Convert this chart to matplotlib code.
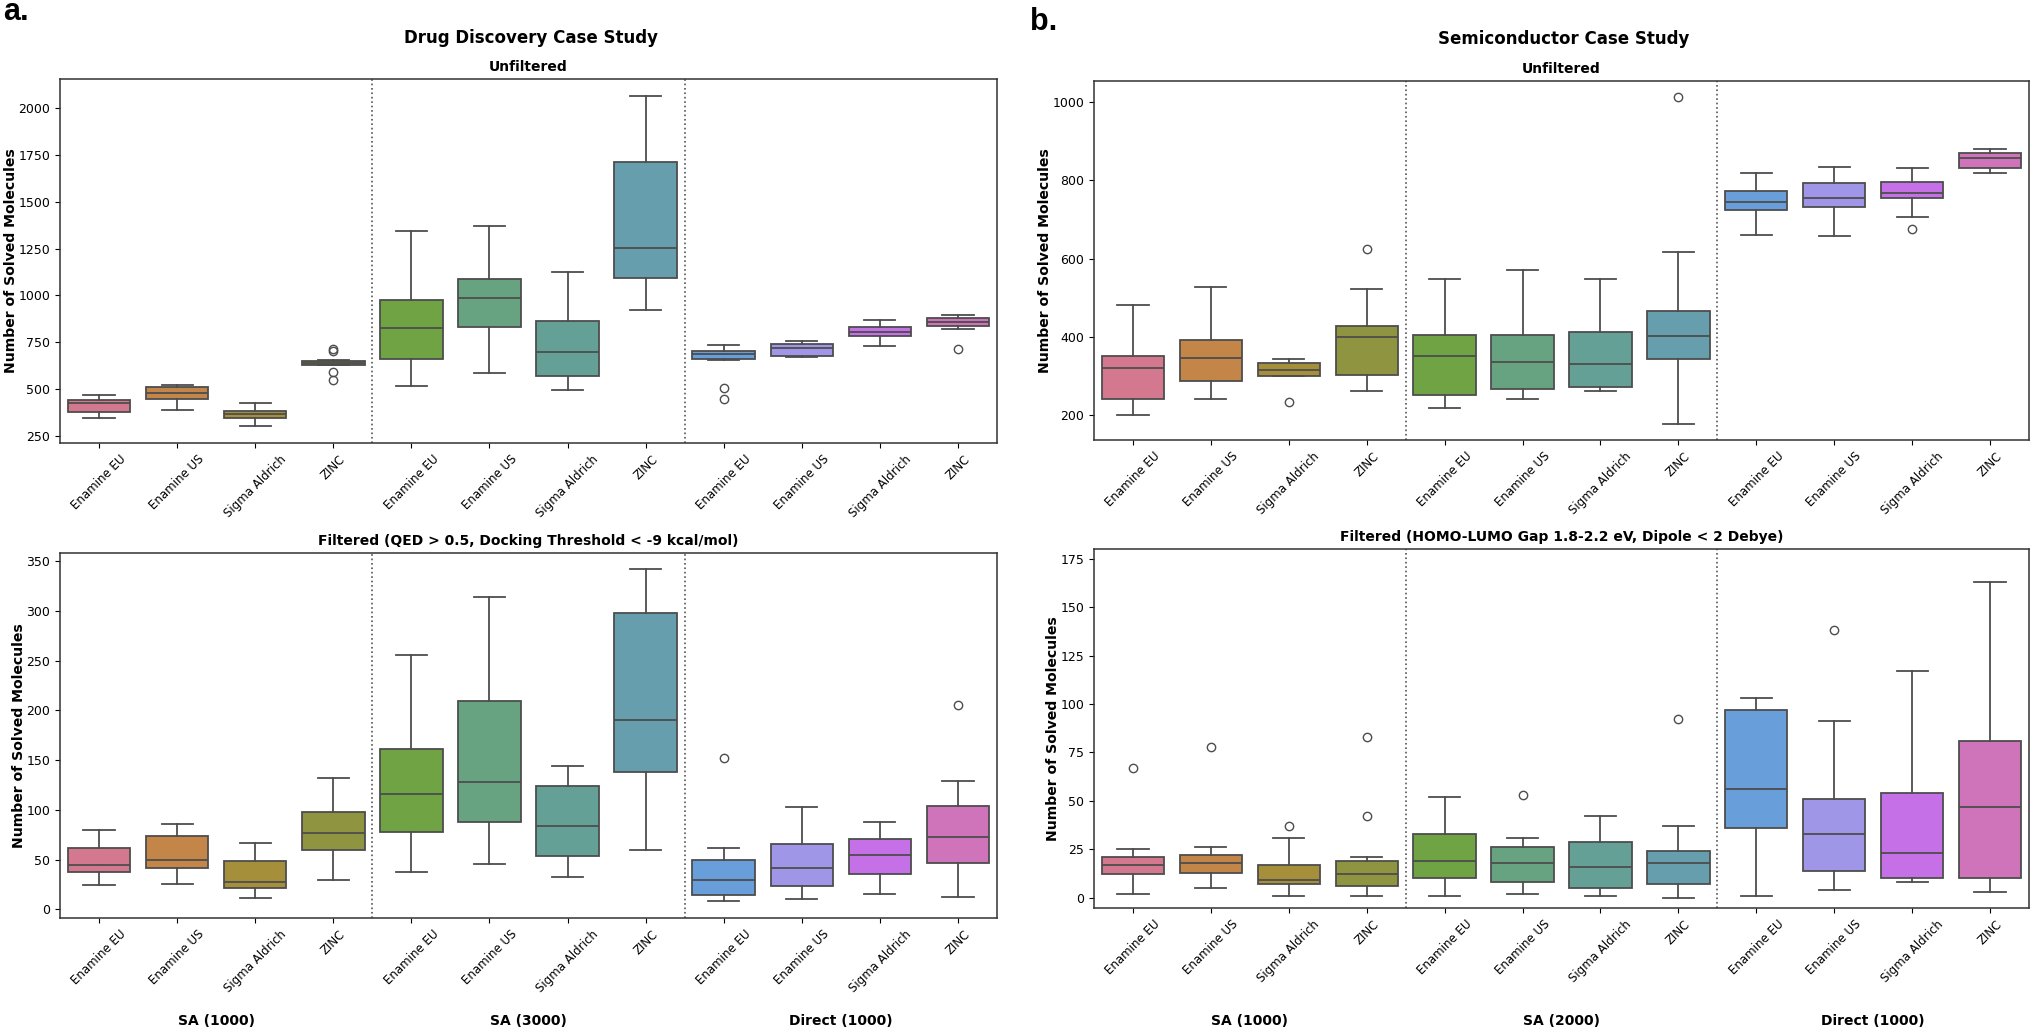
import matplotlib
matplotlib.use("Agg")
import matplotlib.pyplot as plt

W, H = 2032, 1031

libraries = ["Enamine EU", "Enamine US", "Sigma Aldrich", "ZINC"] * 3
colors = ["#d3788f", "#c48549", "#a58f3b", "#8f9441", "#70a344", "#67a380",
          "#64a096", "#669eae", "#689eda", "#a096e8", "#c570e6", "#cf74ba"]

# each list: one value per box, 12 boxes left to right
a_top_wlo = [345, 388, 302, 628, 520, 585, 497, 922, 655, 672, 730, 820]
a_top_q1 = [378, 447, 348, 630, 662, 830, 570, 1093, 660, 678, 783, 836]
a_top_med = [425, 478, 370, 640, 828, 988, 698, 1253, 690, 718, 803, 857]
a_top_q3 = [445, 510, 385, 652, 975, 1085, 865, 1710, 705, 740, 833, 878]
a_top_whi = [470, 522, 428, 658, 1343, 1370, 1125, 2063, 737, 757, 867, 895]
a_top_fliers = [[], [], [], [550, 590, 705, 715], [], [], [], [], [450, 505], [], [], [717]]

a_bot_wlo = [25, 26, 11, 30, 38, 46, 33, 60, 8, 10, 16, 12]
a_bot_q1 = [38, 42, 22, 60, 78, 88, 54, 138, 15, 24, 36, 47]
a_bot_med = [45, 50, 28, 77, 116, 128, 84, 190, 30, 42, 55, 73]
a_bot_q3 = [62, 74, 49, 98, 161, 209, 124, 298, 50, 66, 71, 104]
a_bot_whi = [80, 86, 67, 132, 256, 314, 144, 342, 62, 103, 88, 129]
a_bot_fliers = [[], [], [], [], [], [], [], [], [152], [], [], [205]]

b_top_wlo = [200, 242, 300, 262, 220, 242, 263, 178, 660, 657, 706, 820]
b_top_q1 = [243, 287, 300, 302, 251, 267, 272, 345, 725, 732, 755, 833]
b_top_med = [320, 347, 315, 400, 351, 336, 330, 403, 746, 755, 767, 858]
b_top_q3 = [352, 393, 333, 428, 404, 405, 412, 467, 773, 793, 797, 870]
b_top_whi = [481, 527, 343, 523, 549, 572, 549, 618, 820, 834, 832, 880]
b_top_fliers = [[], [], [235], [625], [], [], [], [1012], [], [], [677], []]

b_bot_wlo = [2, 5, 1, 1, 1, 2, 1, 0, 1, 4, 8, 3]
b_bot_q1 = [12, 13, 7, 6, 10, 8, 5, 7, 36, 14, 10, 10]
b_bot_med = [17, 18, 9, 12, 19, 18, 16, 18, 56, 33, 23, 47]
b_bot_q3 = [21, 22, 17, 19, 33, 26, 29, 24, 97, 51, 54, 81]
b_bot_whi = [25, 26, 31, 21, 52, 31, 42, 37, 103, 91, 117, 163]
b_bot_fliers = [[67], [78], [37], [42, 83], [], [53], [], [92], [], [138], [], []]

a_top_ticks = [250, 500, 750, 1000, 1250, 1500, 1750, 2000]
a_bot_ticks = [0, 50, 100, 150, 200, 250, 300, 350]
b_top_ticks = [200, 400, 600, 800, 1000]
b_bot_ticks = [0, 25, 50, 75, 100, 125, 150, 175]

a_groups = ["SA (1000)", "SA (3000)", "Direct (1000)"]
b_groups = ["SA (1000)", "SA (2000)", "Direct (1000)"]

LINE = "#4d4d4d"


def add_axes(fig, left, top, right, bottom):
    return fig.add_axes([left / W, 1 - bottom / H, (right - left) / W, (bottom - top) / H])


def draw_panel(ax, wlo, q1, med, q3, whi, fliers, ticks, ylim, title, pad):
    stats = []
    for i in range(12):
        stats.append({"whislo": wlo[i], "q1": q1[i], "med": med[i], "q3": q3[i],
                      "whishi": whi[i], "fliers": fliers[i]})
    parts = ax.bxp(stats, positions=range(12), widths=0.8, capwidths=0.4, patch_artist=True,
                   boxprops={"edgecolor": LINE, "linewidth": 1.3},
                   medianprops={"color": LINE, "linewidth": 1.3},
                   whiskerprops={"color": LINE, "linewidth": 1.3},
                   capprops={"color": LINE, "linewidth": 1.3},
                   flierprops={"marker": "o", "markersize": 6, "markerfacecolor": "none",
                               "markeredgecolor": LINE, "markeredgewidth": 1.0})
    for box, c in zip(parts["boxes"], colors):
        box.set_facecolor(c)
    ax.axvline(3.5, color="#555555", linestyle=":", linewidth=1.2)
    ax.axvline(7.5, color="#555555", linestyle=":", linewidth=1.2)
    ax.set_xlim(-0.5, 11.5)
    ax.set_ylim(ylim)
    ax.set_yticks(ticks)
    ax.set_xticks(range(12))
    ax.set_xticklabels(libraries, rotation=45, ha="center", fontsize=8.5)
    ax.tick_params(axis="y", labelsize=9)
    ax.set_ylabel("Number of Solved Molecules", fontsize=10.1, fontweight="bold", labelpad=0.5)
    ax.set_title(title, fontsize=10, fontweight="bold", pad=pad)
    for s in ax.spines.values():
        s.set_color("#333333")
        s.set_linewidth(1.1)


fig = plt.figure(figsize=(W / 100, H / 100), dpi=100)

ax1 = add_axes(fig, 60, 79, 997, 443)
draw_panel(ax1, a_top_wlo, a_top_q1, a_top_med, a_top_q3, a_top_whi, a_top_fliers,
           a_top_ticks, (214, 2153), "Unfiltered", 6)
ax2 = add_axes(fig, 60, 553, 997, 918)
draw_panel(ax2, a_bot_wlo, a_bot_q1, a_bot_med, a_bot_q3, a_bot_whi, a_bot_fliers,
           a_bot_ticks, (-8.6, 358), "Filtered (QED > 0.5, Docking Threshold < -9 kcal/mol)", 6)
ax3 = add_axes(fig, 1094, 81, 2029, 440)
draw_panel(ax3, b_top_wlo, b_top_q1, b_top_med, b_top_q3, b_top_whi, b_top_fliers,
           b_top_ticks, (137, 1054), "Unfiltered", 6)
ax4 = add_axes(fig, 1094, 549, 2029, 908)
draw_panel(ax4, b_bot_wlo, b_bot_q1, b_bot_med, b_bot_q3, b_bot_whi, b_bot_fliers,
           b_bot_ticks, (-5.3, 180), "Filtered (HOMO-LUMO Gap 1.8-2.2 eV, Dipole < 2 Debye)", 6)

# case study headers and panel letters
fig.text(531 / W, 1 - 38 / H, "Drug Discovery Case Study", fontsize=12, fontweight="bold",
         ha="center", va="center")
fig.text(1564 / W, 1 - 39 / H, "Semiconductor Case Study", fontsize=12, fontweight="bold",
         ha="center", va="center")
fig.text(3 / W, 1 - 20 / H, "a.", fontsize=22, fontweight="bold", family="Liberation Sans",
         ha="left", va="baseline")
fig.text(1030 / W, 1 - 30 / H, "b.", fontsize=22, fontweight="bold", family="Liberation Sans",
         ha="left", va="baseline")

# group names under the bottom panels, centred on each group of four boxes
for ax, groups in [(ax2, a_groups), (ax4, b_groups)]:
    trans = ax.get_xaxis_transform()
    for x, name in zip([1.5, 5.5, 9.5], groups):
        px = trans.transform((x, 0))[0]
        fig.text(px / W, 1 - 1021 / H, name, fontsize=10, fontweight="bold",
                 ha="center", va="center")

fig.savefig("out.png", dpi=100)
